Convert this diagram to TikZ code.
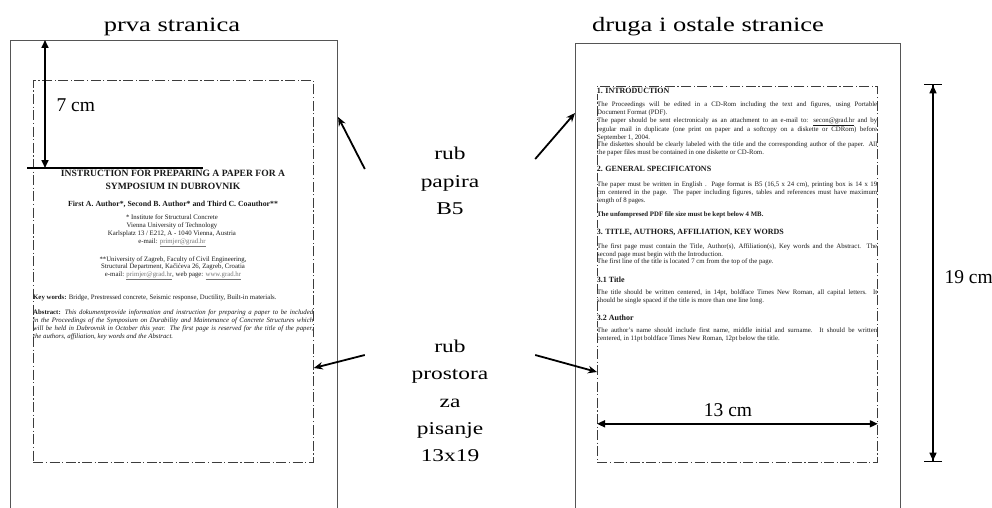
\documentclass[tikz,border=0pt]{standalone}
\usepackage{fontspec}
\setmainfont{Liberation Serif}
\newfontfamily\widefont{Liberation Serif}[FakeStretch=1.3]
\usetikzlibrary{arrows.meta,positioning}
\definecolor{pagegray}{RGB}{85,85,85}
\definecolor{boxgray}{RGB}{60,60,60}
\definecolor{inkgray}{RGB}{25,25,25}
\definecolor{linkgray}{RGB}{115,115,115}
\newcommand{\pagetxt}{\fontsize{6.8}{7.8}\selectfont}
\newcommand{\mailtxt}[1]{\textcolor{linkgray}{\underline{#1}}}

\begin{document}
\begin{tikzpicture}[
  x=1pt, y=-1pt,
  sheet/.style={draw=pagegray, line width=1.1pt, anchor=north west, inner sep=0},
  printbox/.style={draw=boxgray, line width=0.8pt,
                   dash pattern=on 10pt off 2.5pt on 1.2pt off 2.5pt,
                   anchor=north west, inner sep=0},
  heading/.style={font=\widefont\fontsize{20.4}{24}\selectfont, anchor=base},
  callout/.style={font=\widefont\fontsize{18}{27.25}\selectfont,
                  text width=170pt, align=center, inner sep=0},
  dimlbl/.style={font=\fontsize{19.5}{24}\selectfont},
  ptr/.style={-{Stealth[length=9pt,width=7.5pt]}, line width=1.8pt},
  dimarr/.style={{Triangle[length=8pt,width=7pt]}-{Triangle[length=8pt,width=7pt]}, line width=1.6pt},
  barr/.style={{Bar[width=18pt]Triangle[length=8pt,width=7pt]}-{Triangle[length=8pt,width=7pt]Bar[width=18pt]}, line width=1.3pt},
  pg/.style={font=\pagetxt, text=inkgray, inner sep=0},
  body/.style={pg, anchor=north west, text width=280pt, align=justify},
  sechead/.style={font=\fontsize{8}{9}\selectfont\bfseries, text=inkgray,
                  inner sep=0.6pt, anchor=west, fill=white},
]
\useasboundingbox (0,0) rectangle (992,508);
\clip (0,0) rectangle (992,508);

%% --- headings ---
\node[heading] (firsthd) at (172,32) {prva stranica};
\node[heading] (otherhd) at (708,32) {druga i ostale stranice};

%% --- the two B5 sheets and their 13x19 boxes ---
\node[sheet, minimum width=327pt, minimum height=480pt] (first) at (10,40) {};
\node[sheet, minimum width=325pt, minimum height=480pt] (other) at (575,43) {};
\node[printbox, minimum width=280pt, minimum height=382pt] (firstbox) at (33,80) {};
\node[printbox, minimum width=280pt, minimum height=376pt] (otherbox) at (597,86) {};

%% --- first page contents ---
\node[pg, font=\fontsize{9.6}{13}\selectfont\bfseries, align=center] (title) at (173,180)
  {INSTRUCTION FOR PREPARING A PAPER FOR A\\SYMPOSIUM IN DUBROVNIK};
\node[pg, font=\fontsize{7.8}{9}\selectfont\bfseries] (authors) at (173,204)
  {First A. Author*, Second B. Author* and Third C. Coauthor**};
\node[pg, align=center] (affilA) at (172,231)
  {* Institute for Structural Concrete\\Vienna University of Technology\\
   Karlsplatz 13 / E212, A - 1040 Vienna, Austria\\e-mail: \mailtxt{primjer@grad.hr}};
\node[pg, align=center] (affilB) at (173,268.3)
  {**University of Zagreb, Faculty of Civil Engineering,\\
   Structural Department, Kačićeva 26, Zagreb, Croatia\\
   e-mail: \mailtxt{primjer@grad.hr}, web page: \mailtxt{www.grad.hr}};
\node[pg, anchor=west] (keywords) at (33,298.3)
  {\textbf{Key words:} Bridge, Prestressed concrete, Seismic response, Ductility, Built-in materials.};
\node[body] (abstract) at (33,310)
  {\textbf{Abstract:} \textit{This dokumentprovide information and instruction for preparing a paper to be included
   \linebreak in the Proceedings of the Symposium on Durability and Maintenance of Concrete Structures which
   \linebreak will be held in Dubrovnik in October this year. The first page is reserved for the title of the paper,
   \linebreak the authors, affiliation, key words and the Abstract.}};

%% --- second page contents ---
\node[sechead] (intro) at (596,90.7) {1. INTRODUCTION};
\node[body] (parA) at (597,101.8)
  {The Proceedings will be edited in a CD-Rom including the text and figures, using Portable
   \linebreak Document Format (PDF).};
\node[body] (parB) at (597,117.5)
  {The paper should be sent electronicaly as an attachment to an e-mail to: \underline{secon@grad.hr} and by
   \linebreak regular mail in duplicate (one print on paper and a softcopy on a diskette or CDRom) before
   \linebreak September 1, 2004.};
\node[body] (parC) at (597,141.5)
  {The diskettes should be clearly labeled with the title and the corresponding author of the paper. All
   \linebreak the paper files must be contained in one diskette or CD-Rom.};
\node[sechead] (general) at (596,169.3) {2. GENERAL SPECIFICATONS};
\node[body] (parD) at (597,181.5)
  {The paper must be written in English . Page format is B5 (16,5 x 24 cm), printing box is 14 x 19
   \linebreak cm centered in the page. The paper including figures, tables and references must have maximum
   \linebreak length of 8 pages.};
\node[pg, anchor=west, font=\pagetxt\bfseries] (parE) at (597,215)
  {The unfompresed PDF file size must be kept below 4 MB.};
\node[sechead] (titlesec) at (596,232.3) {3. TITLE, AUTHORS, AFFILIATION, KEY WORDS};
\node[body] (parF) at (597,243.5)
  {The first page must contain the Title, Author(s), Affiliation(s), Key words and the Abstract. The
   \linebreak second page must begin with the Introduction.};
\node[pg, anchor=west] (parG) at (597,262)
  {The first line of the title is located 7 cm from the top of the page.};
\node[sechead] (subtitle) at (596,279.5) {3.1 Title};
\node[body] (parH) at (597,289.5)
  {The title should be written centered, in 14pt, boldface Times New Roman, all capital letters. It
   \linebreak should be single spaced if the title is more than one line long.};
\node[sechead] (subauthor) at (596,318) {3.2 Author};
\node[body] (parI) at (597,327.5)
  {The author's name should include first name, middle initial and surname. It should be written
   \linebreak centered, in 11pt boldface Times New Roman, 12pt below the title.};

%% --- dimensions ---
\draw[dimarr] ([xshift=35pt]first.north west) -- ([xshift=35pt,yshift=-128pt]first.north west);
\draw[line width=1.3pt] ([xshift=17pt,yshift=-128pt]first.north west)
  -- ([xshift=193pt,yshift=-128pt]first.north west);
\node[dimlbl, anchor=base west] (sevencm) at (53,112) {7 cm};

\draw[dimarr] ([yshift=39pt]otherbox.south west) -- ([yshift=39pt]otherbox.south east);
\node[dimlbl, anchor=base] (thirteencm) at (728,416) {13 cm};

\coordinate (nineA) at (933,84);
\coordinate (nineB) at (933,462);
\draw[barr] (nineA) -- (nineB);
\node[dimlbl, anchor=base west] (nineteencm) at (941,283) {19 cm};

%% --- callouts ---
\node[callout] (paperedge) at (450,181) {rub\\papira\\B5};
\node[callout] (boxedge) at (450,401) {rub\\prostora\\za\\pisanje\\13x19};
\draw[ptr] ([yshift=12pt]paperedge.west) -- (first.east |- 0,117);
\draw[ptr] ([yshift=22pt]paperedge.east) -- (other.west |- 0,113);
\draw[ptr] ([yshift=46pt]boxedge.west) -- (firstbox.east |- 0,368);
\draw[ptr] ([yshift=46pt]boxedge.east) -- (otherbox.west |- 0,372);

\end{tikzpicture}
\end{document}
